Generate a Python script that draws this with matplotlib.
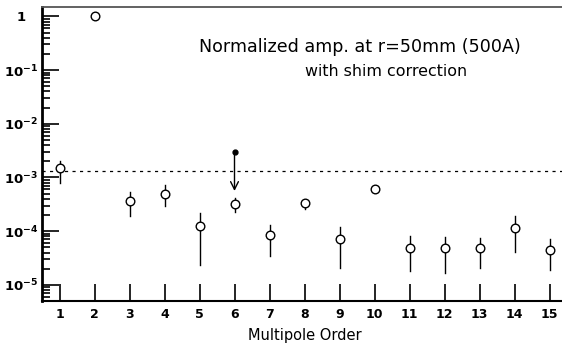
import matplotlib
matplotlib.use("Agg")
import matplotlib.pyplot as plt
import numpy as np

orders = [1, 2, 3, 4, 5, 6, 7, 8, 9, 10, 11, 12, 13, 14, 15]
amp = [1.48e-3, 1.0, 3.6e-4, 5.0e-4, 1.25e-4, 3.2e-4, 8.3e-5, 3.3e-4, 7.1e-5, 6.0e-4,
       4.9e-5, 4.8e-5, 4.8e-5, 1.13e-4, 4.5e-5]
err_hi = [2.04e-3, 1.0, 5.3e-4, 7.2e-4, 2.2e-4, 4.1e-4, 1.3e-4, 3.6e-4, 1.2e-4, 6.0e-4,
          8.1e-5, 7.7e-5, 7.5e-5, 1.9e-4, 7.2e-5]
err_lo = [7.8e-4, 1.0, 1.9e-4, 3.0e-4, 2.35e-5, 2.3e-4, 3.5e-5, 2.6e-4, 2.1e-5, 6.0e-4,
          1.8e-5, 1.65e-5, 2.1e-5, 4.1e-5, 1.85e-5]
limit_level = 1.3e-3
before_order = 6
before_value = 3.0e-3
after_value = 5.6e-4

ytick_vals = [1e-5, 1e-4, 1e-3, 1e-2, 1e-1, 1]
ytick_labels = [r'$\mathbf{10^{-5}}$', r'$\mathbf{10^{-4}}$', r'$\mathbf{10^{-3}}$',
                r'$\mathbf{10^{-2}}$', r'$\mathbf{10^{-1}}$', r'$\mathbf{1}$']

W, H = 562, 346
fig = plt.figure(figsize=(W / 100, H / 100), dpi=100)
left, right, top, bottom = 42, 567, 6.5, 301
ax = fig.add_axes([left / W, (H - bottom) / H, (right - left) / W, (bottom - top) / H])

ax.set_yscale('log')
ax.set_xlim(0.5, 15.5)
ax.set_ylim(5e-6, 1.53)

for x, y, hi, lo in zip(orders, amp, err_hi, err_lo):
    if hi != lo:
        ax.plot([x, x], [lo, hi], color='black', lw=1.0, zorder=2)
ax.plot(orders, amp, 'o', ms=6.2, mfc='white', mec='black', mew=1.0, zorder=3, ls='none')

ax.axhline(limit_level, color='black', lw=0.9, ls=(0, (2.5, 3.5)), zorder=1)

ax.plot([before_order], [before_value], 'o', ms=3.5, color='black', zorder=4)
ax.annotate('', xy=(before_order, after_value), xytext=(before_order, before_value),
            arrowprops=dict(arrowstyle='->', color='black', lw=1.0,
                            mutation_scale=14, shrinkA=0, shrinkB=0), zorder=4)

ax.set_xticks(orders)
ax.set_xticklabels([str(o) for o in orders], fontweight='bold', fontsize=9)
ax.set_yticks(ytick_vals)
ax.set_yticklabels(ytick_labels, fontsize=9.5)
for lab in ax.get_yticklabels():
    lab.set_horizontalalignment('center')
minor = [m * 10.0 ** e for e in range(-6, 1) for m in range(2, 10)]
minor = [v for v in minor if 5e-6 <= v <= 1.53]
ax.yaxis.set_minor_locator(matplotlib.ticker.FixedLocator(minor))
ax.yaxis.set_minor_formatter(matplotlib.ticker.NullFormatter())
ax.xaxis.set_minor_locator(matplotlib.ticker.NullLocator())

ax.tick_params(axis='x', which='major', direction='in', length=12, width=1.2, pad=5, top=False)
ax.tick_params(axis='y', which='major', direction='in', length=12, width=1.2, pad=15, right=False)
ax.tick_params(axis='y', which='minor', direction='in', length=6, width=1.2, right=False)

ax.spines['left'].set_linewidth(2.0)
ax.spines['bottom'].set_linewidth(1.5)
ax.spines['top'].set_linewidth(1.3)
ax.spines['top'].set_color('#555555')
ax.spines['right'].set_visible(False)

ax.set_xlabel('Multipole Order', fontsize=10.5, labelpad=5)

fig.text(360 / W, 1 - 47 / H, 'Normalized amp. at r=50mm (500A)', ha='center', va='center', fontsize=12.6)
fig.text(386.5 / W, 1 - 72 / H, 'with shim correction', ha='center', va='center', fontsize=11.4)

fig.savefig('out.png', dpi=100)
